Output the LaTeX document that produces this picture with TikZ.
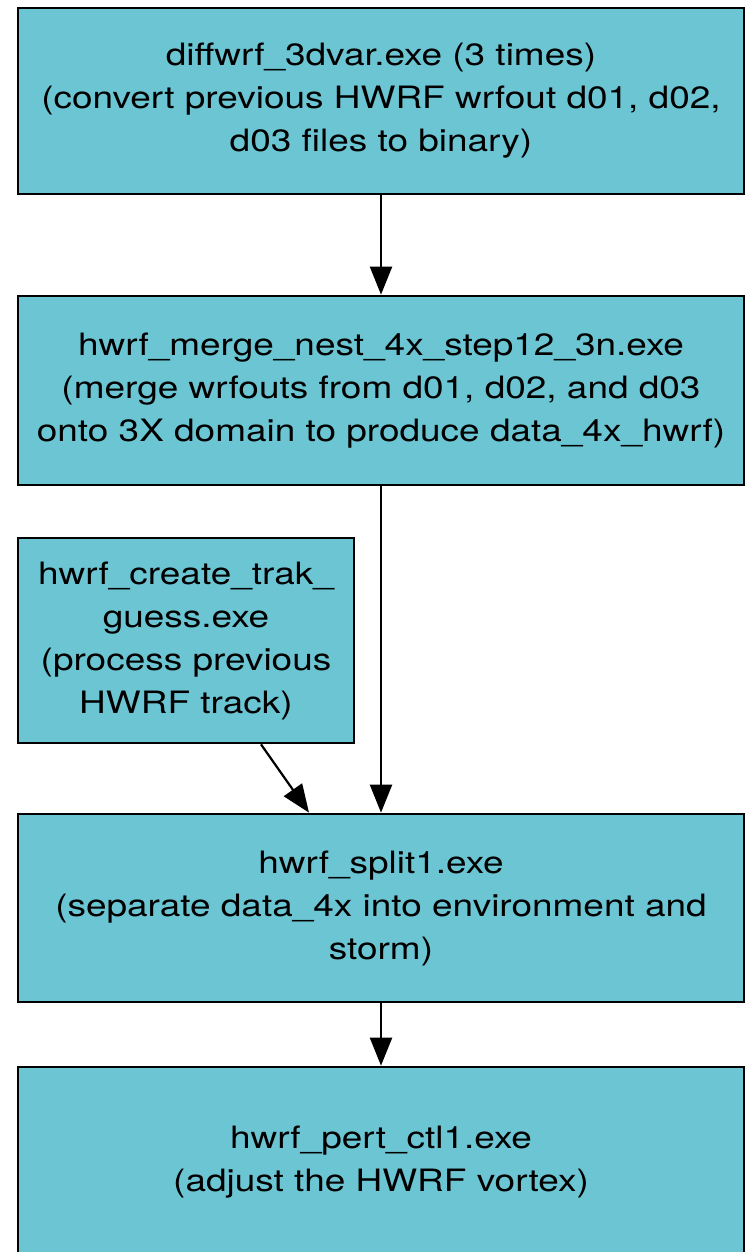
\documentclass[tikz,border=0pt]{standalone}
\usepackage{fontspec}
\setmainfont{TeX Gyre Heros}[FakeStretch=1.2]
\usetikzlibrary{arrows.meta}
\definecolor{boxfill}{HTML}{6CC5D3}

\begin{document}
\begin{tikzpicture}[x=1pt,y=-1pt]
\tikzstyle{proc}=[draw,line width=2.7pt,fill=boxfill,align=center,inner sep=0pt,font=\fontsize{30.8}{43}\selectfont]
\tikzstyle{flow}=[line width=2.2pt,-{Triangle[length=28pt,width=22pt]}]

\useasboundingbox (0,0) rectangle (746,1252);

\node (diff) [proc, minimum width=726, minimum height=186] at (381,101)
  {diffwrf\_3dvar.exe (3 times)\\(convert previous HWRF wrfout d01, d02,\\d03 files to binary)};
\node (merge) [proc, minimum width=726, minimum height=189] at (381,390.5)
  {hwrf\_merge\_nest\_4x\_step12\_3n.exe\\(merge wrfouts from d01, d02, and d03\\onto 3X domain to produce data\_4x\_hwrf)};
\node (trak) [proc, minimum width=336, minimum height=205] at (186,640.5)
  {hwrf\_create\_trak\_\\guess.exe\\(process previous\\HWRF track)};
\node (split) [proc, minimum width=726, minimum height=188] at (381,908)
  {hwrf\_split1.exe\\(separate data\_4x into environment and\\storm)};
\node (pert) [proc, minimum width=726, minimum height=190] at (381,1162)
  {hwrf\_pert\_ctl1.exe\\(adjust the HWRF vortex)};

\draw [flow] (diff.south) -- (merge.north);
\draw [flow] (merge.south) -- (split.north);
\draw [flow] ([xshift=75pt]trak.south) -- ([xshift=-72pt]split.north);
\draw [flow] (split.south) -- (pert.north);

\end{tikzpicture}
\end{document}
